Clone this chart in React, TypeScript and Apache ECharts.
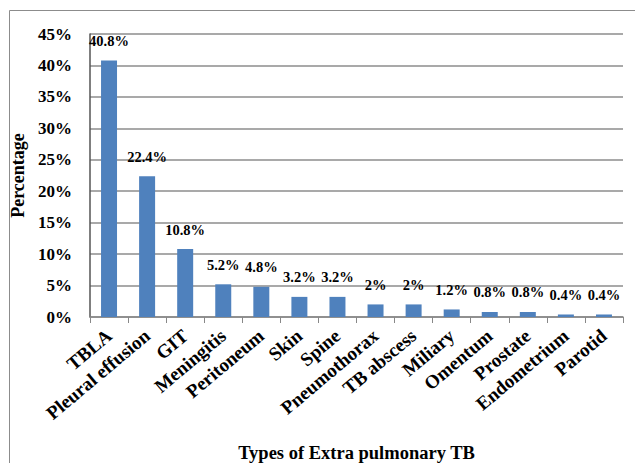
import React, { useEffect, useRef } from "react";
import * as echarts from "echarts";

const categories = [
  "TBLA", "Pleural effusion", "GIT", "Meningitis", "Peritoneum", "Skin", "Spine",
  "Pneumothorax", "TB abscess", "Miliary", "Omentum", "Prostate", "Endometrium", "Parotid",
];
const values = [40.8, 22.4, 10.8, 5.2, 4.8, 3.2, 3.2, 2, 2, 1.2, 0.8, 0.8, 0.4, 0.4];

const FONT = "Liberation Serif";

export default function App() {
  const ref = useRef<HTMLDivElement>(null);
  useEffect(() => {
    const chart = echarts.init(ref.current!, null, { renderer: "svg" });
    chart.setOption({
      animation: false,
      backgroundColor: "#ffffff",
      graphic: [
        {
          type: "rect",
          shape: { x: 9.5, y: 10.5, width: 640, height: 470 },
          style: { fill: "none", stroke: "#8c8c8c", lineWidth: 1 },
          silent: true,
        },
      ],
      grid: { left: 90, right: 12, top: 34, bottom: 146, outerBoundsMode: "none" },
      xAxis: {
        type: "category",
        data: categories,
        boundaryGap: true,
        name: "Types of Extra pulmonary TB",
        nameLocation: "middle",
        nameGap: 126,
        nameTextStyle: { fontFamily: FONT, fontWeight: "bold", fontSize: 18.5, color: "#000" },
        axisLine: { lineStyle: { color: "#888", width: 1.5 } },
        axisTick: { show: true, length: 6, lineStyle: { color: "#888" }, alignWithLabel: false },
        axisLabel: {
          rotate: 40,
          interval: 0,
          fontFamily: FONT,
          fontWeight: "bold",
          fontSize: 19,
          color: "#000",
          margin: 16,
        },
      },
      yAxis: {
        type: "value",
        min: 0,
        max: 45,
        interval: 5,
        name: "Percentage",
        nameLocation: "middle",
        nameGap: 58,
        nameTextStyle: { fontFamily: FONT, fontWeight: "bold", fontSize: 18, color: "#000" },
        axisLine: { show: true, lineStyle: { color: "#555", width: 1.5 } },
        axisTick: { show: false },
        splitLine: { lineStyle: { color: "#8c8c8c", width: 1.5 } },
        axisLabel: {
          formatter: "{value}%",
          fontFamily: FONT,
          fontWeight: "bold",
          fontSize: 17,
          color: "#000",
          margin: 18,
        },
      },
      series: [
        {
          type: "bar",
          data: values,
          barWidth: "42%",
          itemStyle: { color: "#4F81BD" },
          label: {
            show: true,
            position: "top",
            distance: 12,
            formatter: "{c}%",
            fontFamily: FONT,
            fontWeight: "bold",
            fontSize: 14.5,
            color: "#000",
          },
        },
      ],
    });
    return () => chart.dispose();
  }, []);
  return <div ref={ref} style={{ width: 635, height: 463, position: "absolute", left: 0, top: 0 }} />;
}
